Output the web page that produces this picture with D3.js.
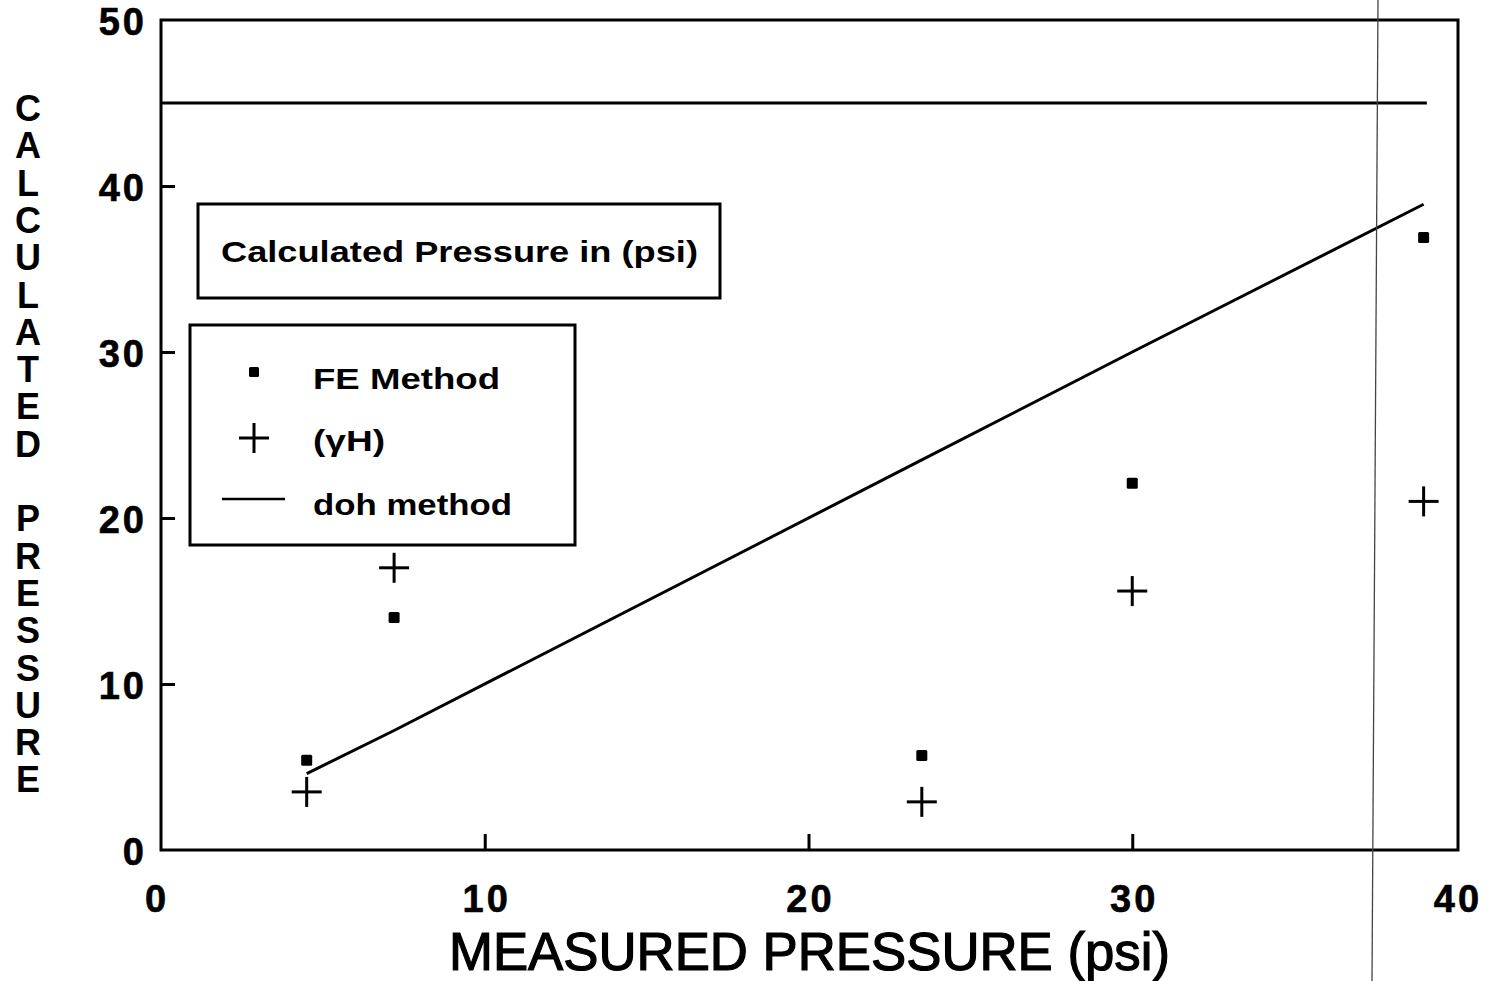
<!DOCTYPE html>
<html>
<head>
<meta charset="utf-8">
<script src="https://cdn.jsdelivr.net/npm/d3@7/dist/d3.min.js"></script>
<style>
  html, body { margin: 0; padding: 0; background: #fff; }
  svg { display: block; }
  text { font-family: "Liberation Sans", Arial, Helvetica, sans-serif; fill: #000; }
</style>
</head>
<body>
<svg id="chart" width="1499" height="981"></svg>
<script>
// ---- data ----
const measured = [4.5, 7.2, 23.5, 30, 39];
const feMethod = [5.4, 14.0, 5.7, 22.1, 36.9];
const gammaH   = [3.5, 17.0, 2.9, 15.6, 21.0];
const dohMethod = [4.6, 7.2, 23.5, 30.0, 38.9];
const limitValue = 45;
const limitRange = [0, 39.1];
const xTicks = [0, 10, 20, 30, 40];
const yTicks = [0, 10, 20, 30, 40, 50];
const legendLabels = ["FE Method", "(\u03B3H)", "doh method"];
const boxTitle = "Calculated Pressure in (psi)";
const xTitle = "MEASURED PRESSURE (psi)";
const yTitle = "CALCULATED PRESSURE";

const svg = d3.select("#chart");
const L = 161, R = 1458, T = 20, B = 850;
const x = d3.scaleLinear().domain([0, 40]).range([L, 1456]);
const y = d3.scaleLinear().domain([0, 50]).range([B, T]);

// frame
svg.append("rect").attr("x", L).attr("y", T).attr("width", R - L).attr("height", B - T)
  .attr("fill", "none").attr("stroke", "#000").attr("stroke-width", 3);

// axes (inward ticks, labels drawn separately)
const yAxis = d3.axisLeft(y).tickValues(yTicks.slice(1, 5)).tickSize(-14).tickFormat("");
const gy = svg.append("g").attr("transform", `translate(${L},0)`).call(yAxis);
gy.select(".domain").remove();
gy.selectAll("line").attr("stroke-width", 3);

const xAxis = d3.axisBottom(x).tickValues(xTicks.slice(1, 4)).tickSize(-16).tickFormat("");
const gx = svg.append("g").attr("transform", `translate(0,${B})`).call(xAxis);
gx.select(".domain").remove();
gx.selectAll("line").attr("stroke-width", 3);

// tick labels
svg.append("g").selectAll("text").data(yTicks).join("text")
  .attr("x", 147).attr("y", d => y(d) + 15)
  .attr("text-anchor", "end").attr("font-size", 38).attr("font-weight", "bold")
  .attr("letter-spacing", 3).attr("stroke", "#000").attr("stroke-width", 0.6)
  .text(d => d);
svg.append("g").selectAll("text").data(xTicks).join("text")
  .attr("x", d => x(d) + (d === 0 ? -4 : 2)).attr("y", 912)
  .attr("text-anchor", "middle").attr("font-size", 38).attr("font-weight", "bold")
  .attr("letter-spacing", 3).attr("stroke", "#000").attr("stroke-width", 0.6)
  .text(d => d);

// axis titles
svg.append("text").attr("x", 449).attr("y", 970)
  .attr("font-size", 53).attr("textLength", 721).attr("lengthAdjust", "spacingAndGlyphs")
  .attr("stroke", "#000").attr("stroke-width", 1.2)
  .text(xTitle);
svg.append("g").selectAll("text").data(yTitle.split("")).join("text")
  .attr("x", 28).attr("y", (d, i) => 121 + i * 37.3)
  .attr("text-anchor", "middle").attr("font-size", 36).attr("font-weight", "bold")
  .text(d => d === " " ? "" : d);

// horizontal limit line at 45
svg.append("line")
  .attr("x1", x(limitRange[0])).attr("x2", x(limitRange[1]))
  .attr("y1", y(limitValue)).attr("y2", y(limitValue))
  .attr("stroke", "#000").attr("stroke-width", 3);

// doh method line
const pts = measured.map((m, i) => [m, dohMethod[i]]);
svg.append("path").datum(pts)
  .attr("d", d3.line().x(d => x(d[0])).y(d => y(d[1])))
  .attr("fill", "none").attr("stroke", "#000").attr("stroke-width", 3);

// FE method squares
svg.append("g").selectAll("rect").data(measured).join("rect")
  .attr("x", (d) => x(d) - 5.5).attr("y", (d, i) => y(feMethod[i]) - 5.5)
  .attr("width", 11).attr("height", 11).attr("rx", 1.5).attr("fill", "#000");

// gammaH plus markers
const plus = (g, cx, cy, h) => {
  g.append("line").attr("x1", cx - h).attr("x2", cx + h).attr("y1", cy).attr("y2", cy)
    .attr("stroke", "#000").attr("stroke-width", 3);
  g.append("line").attr("x1", cx).attr("x2", cx).attr("y1", cy - h).attr("y2", cy + h)
    .attr("stroke", "#000").attr("stroke-width", 3);
};
const gp = svg.append("g");
measured.forEach((m, i) => plus(gp, x(m), y(gammaH[i]), 15));

// title box
svg.append("rect").attr("x", 198).attr("y", 204).attr("width", 522).attr("height", 94)
  .attr("fill", "#fff").attr("stroke", "#000").attr("stroke-width", 3);
svg.append("text").attr("x", 221).attr("y", 262)
  .attr("font-size", 30).attr("font-weight", "bold")
  .attr("textLength", 477).attr("lengthAdjust", "spacingAndGlyphs")
  .text(boxTitle);

// legend box
svg.append("rect").attr("x", 190).attr("y", 325).attr("width", 385).attr("height", 220)
  .attr("fill", "#fff").attr("stroke", "#000").attr("stroke-width", 3);
svg.append("rect").attr("x", 249).attr("y", 367).attr("width", 10).attr("height", 10)
  .attr("rx", 1.5).attr("fill", "#000");
plus(svg.append("g"), 254, 438, 15);
svg.append("line").attr("x1", 222).attr("x2", 285).attr("y1", 499).attr("y2", 499)
  .attr("stroke", "#000").attr("stroke-width", 2.5);
const legY = [389, 451, 515];
const legW = [187, 72, 199];
svg.append("g").selectAll("text").data(legendLabels).join("text")
  .attr("x", 313).attr("y", (d, i) => legY[i])
  .attr("font-size", 30).attr("font-weight", "bold")
  .attr("textLength", (d, i) => legW[i]).attr("lengthAdjust", "spacingAndGlyphs")
  .text(d => d);

// scan artifact: thin vertical line
svg.append("line").attr("x1", 1378).attr("x2", 1372).attr("y1", 0).attr("y2", 981)
  .attr("stroke", "#444").attr("stroke-width", 1.3);
</script>
</body>
</html>
